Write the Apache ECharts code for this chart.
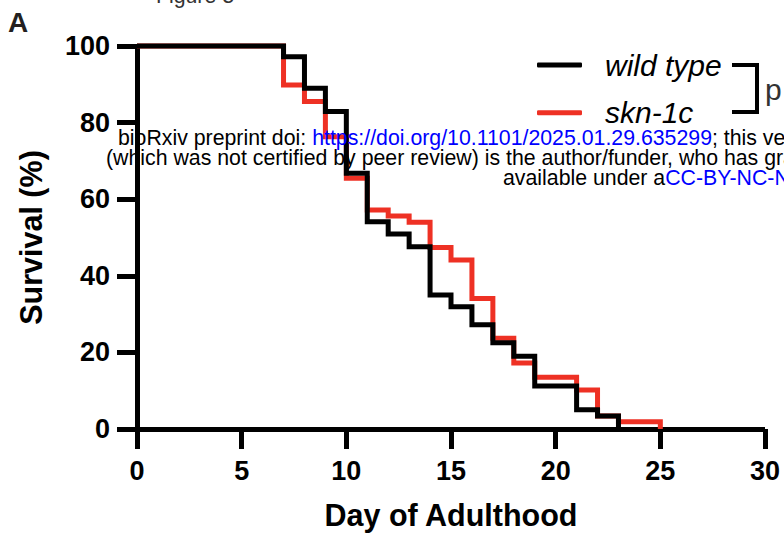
<!DOCTYPE html>
<html><head><meta charset="utf-8">
<script src="https://cdn.jsdelivr.net/npm/echarts@6/dist/echarts.min.js"></script>
<style>html,body{margin:0;padding:0;background:#fff}#c{width:784px;height:542px}</style>
</head><body><div id="c"></div>
<script>
const FONT = '"Liberation Sans", Arial, Helvetica, sans-serif';

// tick labels
const xTickLabels = ['0','5','10','15','20','25','30'];
const yTickLabels = ['0','20','40','60','80','100'];

// Kaplan-Meier steps (day, % surviving)
const seriesNames = ['wild type', 'skn-1c'];
const wtDays     = [0, 7, 8, 9, 10, 11, 12, 13, 14, 15, 16, 17, 18, 19, 21, 22, 23];
const wtSurvival = [100, 97.2, 89, 82.9, 66.8, 54.1, 50.9, 47.6, 35, 31.9, 27.2, 22.5, 19, 11.2, 5, 3.4, 0];
const skDays     = [0, 7, 8, 9, 10, 11, 12, 13, 14, 15, 16, 17, 18, 19, 21, 22, 23, 25];
const skSurvival = [100, 89.8, 85.5, 76.3, 65.5, 57.2, 55.6, 54, 47.4, 44.1, 34.1, 23.7, 17.2, 13.5, 10.2, 3.4, 1.9, 0];

const pair = (xs, ys) => xs.map((x, i) => [x, ys[i]]);

const chart = echarts.init(document.getElementById('c'), null, {renderer: 'svg', width: 784, height: 542});

const axisCommon = {
  type: 'value',
  axisLine: {show: true, lineStyle: {color: '#000', width: 5, cap: 'butt'}},
  axisTick: {show: true, length: 20, lineStyle: {color: '#000', width: 5}},
  splitLine: {show: false},
  nameTextStyle: {color: '#000', fontSize: 30.5, fontWeight: 'bold', fontFamily: FONT}
};

const TXT = 21.3;

chart.setOption({
  animation: false,
  backgroundColor: '#fff',
  grid: {left: 137, right: 19, top: 46, bottom: 113},
  xAxis: Object.assign({}, axisCommon, {
    min: 0, max: 30, interval: 5,
    axisLabel: {margin: 28, color: '#000', fontSize: 27, fontWeight: 'bold', fontFamily: FONT,
      formatter: v => xTickLabels[Math.round(v / 5)]},
    name: 'Day of Adulthood', nameLocation: 'middle', nameGap: 70
  }),
  yAxis: Object.assign({}, axisCommon, {
    min: 0, max: 100, interval: 20,
    axisLabel: {margin: 27, color: '#000', fontSize: 27, fontWeight: 'bold', fontFamily: FONT,
      formatter: v => yTickLabels[Math.round(v / 20)]},
    name: 'Survival (%)', nameLocation: 'middle', nameGap: 91
  }),
  legend: {
    orient: 'vertical', left: 537, top: 50, padding: 0,
    itemWidth: 45, itemHeight: 5, itemGap: 17.7,
    icon: 'roundRect',
    data: seriesNames,
    textStyle: {color: '#000', fontSize: 30, fontStyle: 'italic', fontFamily: FONT, lineHeight: 30, padding: [0, 0, 0, 18]}
  },
  series: [
    {
      name: seriesNames[1], type: 'line', step: 'end', data: pair(skDays, skSurvival),
      symbol: 'none', clip: false, color: '#ee3124',
      lineStyle: {color: '#ee3124', width: 5, cap: 'butt', join: 'miter'}, z: 3
    },
    {
      name: seriesNames[0], type: 'line', step: 'end', data: pair(wtDays, wtSurvival),
      symbol: 'none', clip: false, color: '#000',
      lineStyle: {color: '#000', width: 5, cap: 'butt', join: 'miter'}, z: 4
    }
  ],
  graphic: [
    {type: 'polyline', z: 10, shape: {points: [[732, 65], [757, 65], [757, 112], [732, 112]]},
      style: {stroke: '#000', lineWidth: 4, fill: null}},
    {type: 'text', z: 10, x: 765, y: 89, style: {text: 'p', fontSize: 30, fontFamily: FONT, fill: '#333', align: 'left', verticalAlign: 'middle'}},
    {type: 'text', z: 10, x: 8, y: 22, style: {text: 'A', fontSize: 28, fontWeight: 'bold', fontFamily: FONT, fill: '#231f20', align: 'left', verticalAlign: 'middle'}},
    {type: 'text', z: 10, x: 195, y: -4, style: {text: 'Figure 3', fontSize: TXT, fontFamily: FONT, fill: '#333', align: 'center', verticalAlign: 'middle'}},
    {type: 'text', z: 20, x: 118, y: 138, style: {
      text: '{k|bioRxiv preprint doi: }{b|https://doi.org/10.1101/2025.01.29.635299}{k|; this version posted January 30, 2025. The copyright holder for this preprint}',
      fontSize: TXT, fontFamily: FONT, align: 'left', verticalAlign: 'middle',
      rich: {k: {fill: '#000', fontSize: TXT, fontFamily: FONT}, b: {fill: '#0000ff', fontSize: TXT, fontFamily: FONT}}}},
    {type: 'text', z: 20, x: 106, y: 158, style: {
      text: '(which was not certified by peer review) is the author/funder, who has granted bioRxiv a license to display the preprint in perpetuity. It is made',
      fontSize: TXT, fontFamily: FONT, fill: '#000', align: 'left', verticalAlign: 'middle'}},
    {type: 'text', z: 20, x: 503, y: 178, style: {
      text: '{k|available under a}{b|CC-BY-NC-ND 4.0 International license}{k|.}',
      fontSize: TXT, fontFamily: FONT, align: 'left', verticalAlign: 'middle',
      rich: {k: {fill: '#000', fontSize: TXT, fontFamily: FONT}, b: {fill: '#0000ff', fontSize: TXT, fontFamily: FONT}}}}
  ]
});
</script>
</body></html>
